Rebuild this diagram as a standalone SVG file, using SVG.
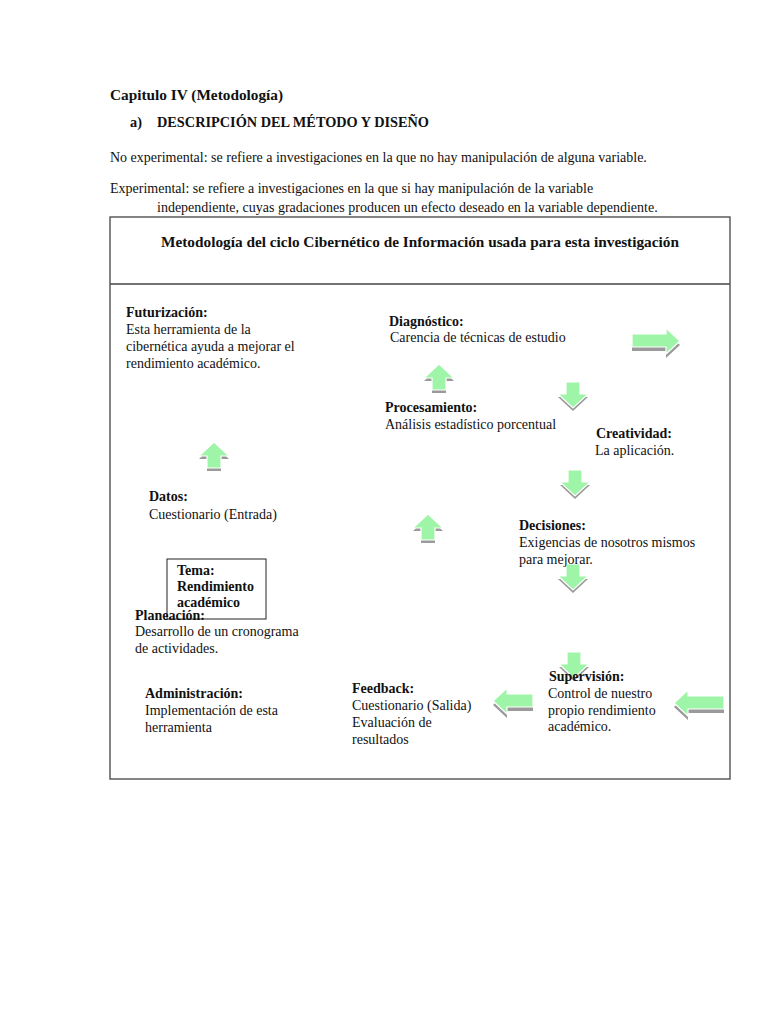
<svg xmlns="http://www.w3.org/2000/svg" width="768" height="1024" viewBox="0 0 768 1024">
<style>
text{font-family:"Liberation Serif","Times New Roman",serif;font-size:14px;fill:#111}
.b{font-weight:bold}
.h1{font-size:15.3px;font-weight:bold}
.h2{font-size:14.3px;font-weight:bold}
.t{font-size:15.3px;font-weight:bold}
.g{fill:#9ef5a8;stroke:#fff;stroke-width:1.2}
.s{fill:#9a9a9a}
.frame{fill:none;stroke:#444;stroke-width:1.3}
</style>
<defs>
<path id="up" d="M15,0 L30,14 L22,14 L22,26 L8,26 L8,14 L0,14 Z"/>
<path id="down" d="M8,0 L22,0 L22,12 L30,12 L15,26 L0,12 L8,12 Z"/>
<path id="right" d="M0,6 L34,6 L34,0 L48,13 L34,26 L34,19 L0,19 Z"/>
<path id="left40" d="M0,13 L14,0 L14,6 L40,6 L40,19 L14,19 L14,26 Z"/>
<path id="left50" d="M0,13 L14,0 L14,6 L50,6 L50,19 L14,19 L14,26 Z"/>
</defs>
<rect width="768" height="1024" fill="#fff"/>

<g id="header">
<text class="h1" x="110" y="100">Capitulo IV (Metodología)</text>
<text class="h2" x="130" y="127">a)</text>
<text class="h2" x="157" y="127">DESCRIPCIÓN DEL MÉTODO Y DISEÑO</text>
<text x="110" y="162">No experimental: se refiere a investigaciones en la que no hay manipulación de alguna variable.</text>
<text x="110" y="193">Experimental: se refiere a investigaciones en la que si hay manipulación de la variable</text>
<text x="157" y="212">independiente, cuyas gradaciones producen un efecto deseado en la variable dependiente.</text>
</g>

<g id="frame">
<rect class="frame" x="110" y="217" width="620" height="562"/>
<line class="frame" x1="110" y1="284" x2="730" y2="284"/>
<text class="t" x="420" y="247" text-anchor="middle">Metodología del ciclo Cibernético de Información usada para esta investigación</text>
</g>

<g id="connectors">
<use href="#up" class="s" transform="translate(199,445)"/><use href="#up" class="g" transform="translate(199,442)"/>
<use href="#up" class="s" transform="translate(424,367)"/><use href="#up" class="g" transform="translate(424,364)"/>
<use href="#up" class="s" transform="translate(413,517)"/><use href="#up" class="g" transform="translate(413,514)"/>
<use href="#down" class="s" transform="translate(558,385)"/><use href="#down" class="g" transform="translate(558,382)"/>
<use href="#down" class="s" transform="translate(560,473)"/><use href="#down" class="g" transform="translate(560,470)"/>
<use href="#down" class="s" transform="translate(558,567)"/><use href="#down" class="g" transform="translate(558,564)"/>
<use href="#down" class="s" transform="translate(559,655)"/><use href="#down" class="g" transform="translate(559,652)"/>
<use href="#right" class="s" transform="translate(632,332)"/><use href="#right" class="g" transform="translate(632,328)"/>
<use href="#left40" class="s" transform="translate(493,692)"/><use href="#left40" class="g" transform="translate(493,688)"/>
<use href="#left50" class="s" transform="translate(674,694)"/><use href="#left50" class="g" transform="translate(674,690)"/>
</g>

<g id="futurizacion">
<text class="b" x="126" y="317">Futurización:</text>
<text x="126" y="334">Esta herramienta de la</text>
<text x="126" y="351">cibernética ayuda a mejorar el</text>
<text x="126" y="368">rendimiento académico.</text>
</g>
<g id="diagnostico">
<text class="b" x="389" y="326">Diagnóstico:</text>
<text x="390" y="342">Carencia de técnicas de estudio</text>
</g>
<g id="procesamiento">
<text class="b" x="385" y="412">Procesamiento:</text>
<text x="385" y="429">Análisis  estadístico porcentual</text>
</g>
<g id="creatividad">
<text class="b" x="596" y="438">Creatividad:</text>
<text x="595" y="455">La aplicación.</text>
</g>
<g id="datos">
<text class="b" x="149" y="501">Datos:</text>
<text x="149" y="519">Cuestionario (Entrada)</text>
</g>
<g id="decisiones">
<text class="b" x="519" y="530">Decisiones:</text>
<text x="519" y="547">Exigencias de nosotros mismos</text>
<text x="519" y="564">para mejorar.</text>
</g>
<g id="tema">
<rect x="167" y="559" width="99" height="60" fill="#fff" stroke="#222" stroke-width="1"/>
<text class="b" x="177" y="575">Tema:</text>
<text class="b" x="177" y="591">Rendimiento</text>
<text class="b" x="177" y="607">académico</text>
</g>
<g id="planeacion">
<text class="b" x="135" y="620">Planeación:</text>
<text x="135" y="636">Desarrollo de un cronograma</text>
<text x="135" y="653">de actividades.</text>
</g>
<g id="administracion">
<text class="b" x="145" y="698">Administración:</text>
<text x="145" y="715">Implementación de esta</text>
<text x="145" y="732">herramienta</text>
</g>
<g id="feedback">
<text class="b" x="352" y="693">Feedback:</text>
<text x="352" y="710">Cuestionario (Salida)</text>
<text x="352" y="727">Evaluación de</text>
<text x="352" y="744">resultados</text>
</g>
<g id="supervision">
<text class="b" x="549" y="681">Supervisión:</text>
<text x="548" y="698">Control de nuestro</text>
<text x="548" y="715">propio rendimiento</text>
<text x="548" y="731">académico.</text>
</g>
</svg>
